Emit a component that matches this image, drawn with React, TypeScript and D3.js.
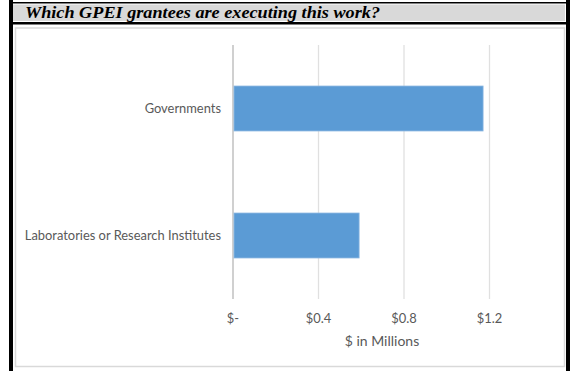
import React, { useEffect, useRef } from "react";
import * as d3 from "d3";

const categories = ["Governments", "Laboratories or Research Institutes"];
const values = [1.17, 0.59];
const tickValues = [0, 0.4, 0.8, 1.2];
const tickLabels = ["$-", "$0.4", "$0.8", "$1.2"];
const titleText = "Which GPEI grantees are executing this work?";
const axisTitle = "$ in Millions";

export default function App() {
  const ref = useRef<SVGSVGElement | null>(null);

  useEffect(() => {
    const svg = d3.select(ref.current);
    svg.selectAll("*").remove();
    const W = 572, H = 371;

    // Outer frame
    svg.append("rect").attr("x", 0).attr("y", 0).attr("width", W).attr("height", H).attr("fill", "#fff");
    svg.append("rect").attr("x", 9).attr("y", 0).attr("width", 4).attr("height", H).attr("fill", "#000");
    svg.append("rect").attr("x", 566).attr("y", 0).attr("width", 4).attr("height", H).attr("fill", "#000");
    svg.append("rect").attr("x", 9).attr("y", 2).attr("width", 561).attr("height", 1.5).attr("fill", "#000");
    svg.append("rect").attr("x", 13).attr("y", 4.5).attr("width", 552).attr("height", 16.5).attr("fill", "#d9d9d9");
    svg.append("rect").attr("x", 9).attr("y", 22).attr("width", 561).attr("height", 2.5).attr("fill", "#000");

    svg.append("text")
      .attr("x", 25).attr("y", 17.5)
      .attr("font-family", "'Liberation Serif', 'Times New Roman', serif")
      .attr("font-weight", "bold").attr("font-style", "italic")
      .attr("font-size", 17).attr("fill", "#000")
      .attr("textLength", 355).attr("lengthAdjust", "spacingAndGlyphs")
      .text(titleText);

    // Chart area border
    svg.append("rect").attr("x", 15.5).attr("y", 28).attr("width", 549).attr("height", 338.5)
      .attr("fill", "#fff").attr("stroke", "#d9d9d9").attr("stroke-width", 1.5);

    const x = d3.scaleLinear().domain([0, 1.2]).range([233, 489.5]);
    const y = d3.scaleBand().domain(categories).range([45, 299]).paddingInner(0.646).paddingOuter(0.323);

    const g = svg.append("g");
    g.selectAll("line.grid").data(tickValues).enter().append("line")
      .attr("x1", d => x(d)).attr("x2", d => x(d))
      .attr("y1", 45).attr("y2", 299)
      .attr("stroke", (d, i) => (i === 0 ? "#d0d0d0" : "#e0e0e0"))
      .attr("stroke-width", (d, i) => (i === 0 ? 2 : 1.3));

    g.selectAll("rect.bar").data(values).enter().append("rect")
      .attr("x", x(0) + 1)
      .attr("y", (d, i) => y(categories[i])!)
      .attr("width", d => x(d) - x(0) - 1)
      .attr("height", y.bandwidth())
      .attr("fill", "#5b9bd5")
      .attr("stroke", "#8cb8e2").attr("stroke-width", 0.8);

    const font = "Lato, 'Open Sans', sans-serif";
    g.selectAll("text.cat").data(categories).enter().append("text")
      .attr("x", 221)
      .attr("y", d => y(d)! + y.bandwidth() / 2 + 4.5)
      .attr("text-anchor", "end")
      .attr("font-family", font).attr("font-size", 12.9).attr("fill", "#595959")
      .text(d => d);

    g.selectAll("text.tick").data(tickValues).enter().append("text")
      .attr("x", d => x(d))
      .attr("y", 322.5)
      .attr("text-anchor", "middle")
      .attr("font-family", font).attr("font-size", 12.9).attr("fill", "#595959")
      .text((d, i) => tickLabels[i]);

    g.append("text")
      .attr("x", 382).attr("y", 346)
      .attr("text-anchor", "middle")
      .attr("font-family", font).attr("font-size", 14).attr("fill", "#595959")
      .text(axisTitle);
  }, []);

  return (
    <svg ref={ref} width={572} height={371}
      style={{ position: "absolute", left: 0, top: 0, display: "block" }} />
  );
}
